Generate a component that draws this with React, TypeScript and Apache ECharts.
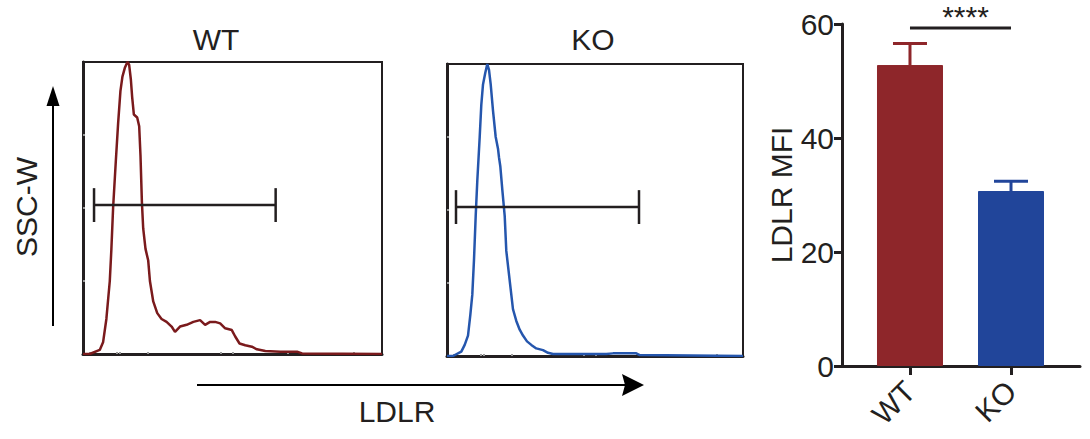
import React, { useEffect, useRef } from "react";
import * as echarts from "echarts";

// Flow histograms (x: LDLR channel position, y: % of modal count)
const wtHistX = [0, 6.7, 16.7, 20, 23.3, 26.7, 28.3, 30, 32.7, 35, 37.3, 39.3, 41.7, 44.3, 46, 47.7, 49, 50.7, 54, 56, 57.3, 58.7, 60, 62.3, 65, 66.7, 70, 74, 78.3, 83.3, 88.3, 91.7, 96.7, 103.3, 110, 116.7, 121.7, 126.7, 131.7, 136.7, 141.7, 148.3, 151.7, 156, 161.7, 168.3, 173.3, 181.7, 196.7, 213.3, 218.3, 298];
const wtHistY = [0, 0, 1.4, 4, 12, 25, 36, 50, 66, 79, 90, 95, 98, 100, 99, 94, 88, 82, 81, 78, 68, 52, 43, 36, 32, 25, 18, 14, 12, 11, 9.4, 7.6, 9.4, 10, 11, 11.6, 10, 11, 11, 10.5, 8.8, 8.2, 6, 3.6, 3, 2.5, 1.6, 1, 0.8, 0.8, 0.2, 0];

const koHistX = [0, 6, 14.3, 17.7, 21, 23.3, 25.3, 27, 28.7, 30.3, 32.7, 34.3, 36, 38.3, 40.3, 42, 43.7, 46, 48.7, 51, 52, 53.3, 55.3, 57.7, 59.3, 61.3, 63.3, 66, 69.3, 72.7, 76, 80, 84.3, 89.3, 96, 101, 106, 159.3, 166, 189.3, 192.7, 296];
const koHistY = [0, 0, 1.5, 3.8, 7, 14, 21, 33, 48, 60, 75, 86, 93, 97, 100, 98, 93, 84, 75, 71, 68, 65, 57, 48, 36, 30, 24, 16, 12, 9, 7, 5, 3.8, 2.6, 2, 1.1, 0.7, 0.7, 0.9, 0.9, 0.3, 0];

// Gates: [start, end, level, half cap height]
const wtGate = [11, 192, 51, 5.8];
const koGate = [9, 192, 51, 5.8];

// Minor tick positions on the histogram axes
const histXTicks = [7, 34, 37, 65, 137, 149, 204, 270];
const histYTicks = [25, 50, 75];

// MFI summary
const barCategories = ["WT", "KO"];
const barMeans = [52.8, 30.7];
const barUpper = [56.6, 32.4];
const sigLevel = 59.3;
const sigLabel = "****";

const INK = "#231f20";
const FONT = "'Liberation Sans', Arial, Helvetica, sans-serif";
const WT_LINE = "#7a1a1c";
const KO_LINE = "#2556ad";
const WT_BAR = "#8e262a";
const KO_BAR = "#21459a";

function histAxes(gridIndex: number, xMax: number) {
  const xAxis = {
    type: "value",
    gridIndex,
    min: 0,
    max: xMax,
    axisLine: { show: true, lineStyle: { color: INK, width: 3 } },
    axisTick: {
      show: true,
      inside: true,
      length: 2,
      customValues: histXTicks,
      lineStyle: { color: "#9a9a9a", width: 2 },
    },
    axisLabel: { show: false },
    splitLine: { show: false },
  };
  const yAxis = {
    type: "value",
    gridIndex,
    min: 0,
    max: 100,
    axisLine: { show: true, lineStyle: { color: INK, width: 3 } },
    axisTick: {
      show: true,
      inside: true,
      length: 2,
      customValues: histYTicks,
      lineStyle: { color: "#9a9a9a", width: 2 },
    },
    axisLabel: { show: false },
    splitLine: { show: false },
  };
  return { xAxis, yAxis };
}

function gateSeries(axisIndex: number, gate: number[]) {
  return {
    type: "custom",
    xAxisIndex: axisIndex,
    yAxisIndex: axisIndex,
    silent: true,
    z: 5,
    data: [gate],
    encode: { x: [0, 1], y: 2 },
    renderItem: (_p: any, api: any) => {
      const x1 = api.value(0);
      const x2 = api.value(1);
      const y = api.value(2);
      const h = api.value(3);
      const a = api.coord([x1, y]);
      const b = api.coord([x2, y]);
      const top = api.coord([x1, y + h])[1];
      const bot = api.coord([x1, y - h])[1];
      const style = { stroke: INK, lineWidth: 2.5 };
      return {
        type: "group",
        children: [
          { type: "line", shape: { x1: a[0], y1: a[1], x2: b[0], y2: b[1] }, style },
          { type: "line", shape: { x1: a[0], y1: top, x2: a[0], y2: bot }, style },
          { type: "line", shape: { x1: b[0], y1: top, x2: b[0], y2: bot }, style },
        ],
      };
    },
  };
}

export default function App() {
  const ref = useRef<HTMLDivElement>(null);

  useEffect(() => {
    if (!ref.current) return;
    const chart = echarts.init(ref.current, null, { renderer: "svg" });

    const wt = histAxes(0, 298);
    const ko = histAxes(1, 296);
    const barColors = [WT_BAR, KO_BAR];

    const option: any = {
      animation: false,
      backgroundColor: "#ffffff",
      textStyle: { fontFamily: FONT },
      grid: [
        { left: 83, top: 62, width: 299, height: 292, show: true, borderColor: INK, borderWidth: 2, backgroundColor: "transparent" },
        { left: 447, top: 64, width: 296, height: 292, show: true, borderColor: INK, borderWidth: 2, backgroundColor: "transparent" },
        { left: 842, top: 24, width: 238, height: 342 },
      ],
      xAxis: [
        wt.xAxis,
        ko.xAxis,
        {
          type: "value",
          gridIndex: 2,
          min: 0.327,
          max: 2.683,
          axisLine: { show: true, lineStyle: { color: INK, width: 3 } },
          axisTick: { show: true, length: 9, customValues: [1, 2], lineStyle: { color: INK, width: 3 } },
          axisLabel: {
            show: true,
            customValues: [1, 2],
            rotate: 45,
            margin: 20,
            fontSize: 30,
            color: INK,
            fontFamily: FONT,
            formatter: (v: number) => barCategories[Math.round(v) - 1] ?? "",
          },
          splitLine: { show: false },
        },
      ],
      yAxis: [
        wt.yAxis,
        ko.yAxis,
        {
          type: "value",
          gridIndex: 2,
          min: 0,
          max: 60,
          interval: 20,
          name: "LDLR MFI",
          nameLocation: "middle",
          nameGap: 46,
          nameTextStyle: { fontSize: 30, color: INK, fontFamily: FONT },
          axisLine: { show: true, lineStyle: { color: INK, width: 3 } },
          axisTick: { show: true, length: 8, lineStyle: { color: INK, width: 3 } },
          axisLabel: { fontSize: 30, color: INK, margin: 8, fontFamily: FONT },
          splitLine: { show: false },
        },
      ],
      series: [
        {
          type: "line",
          xAxisIndex: 0,
          yAxisIndex: 0,
          data: wtHistX.map((x, i) => [x, wtHistY[i]]),
          showSymbol: false,
          symbol: "none",
          lineStyle: { color: WT_LINE, width: 2.5 },
          z: 3,
        },
        {
          type: "line",
          xAxisIndex: 1,
          yAxisIndex: 1,
          data: koHistX.map((x, i) => [x, koHistY[i]]),
          showSymbol: false,
          symbol: "none",
          lineStyle: { color: KO_LINE, width: 2.5 },
          z: 3,
        },
        gateSeries(0, wtGate),
        gateSeries(1, koGate),
        {
          type: "bar",
          xAxisIndex: 2,
          yAxisIndex: 2,
          barWidth: 66,
          data: barMeans.map((m, i) => ({
            value: [i + 1, m],
            itemStyle: { color: barColors[i], borderColor: barColors[i], borderWidth: 1 },
          })),
          z: 2,
        },
        {
          type: "custom",
          xAxisIndex: 2,
          yAxisIndex: 2,
          silent: true,
          z: 3,
          data: barMeans.map((m, i) => [i + 1, m, barUpper[i]]),
          encode: { x: 0, y: [1, 2] },
          renderItem: (params: any, api: any) => {
            const x = api.value(0);
            const base = api.coord([x, api.value(1)]);
            const top = api.coord([x, api.value(2)]);
            const color = barColors[params.dataIndex];
            const style = { stroke: color, lineWidth: 3 };
            return {
              type: "group",
              children: [
                { type: "line", shape: { x1: base[0], y1: base[1], x2: top[0], y2: top[1] }, style },
                { type: "line", shape: { x1: top[0] - 17, y1: top[1], x2: top[0] + 17, y2: top[1] }, style },
              ],
            };
          },
        },
        {
          type: "custom",
          xAxisIndex: 2,
          yAxisIndex: 2,
          silent: true,
          z: 3,
          clip: false,
          data: [[1, 2, sigLevel]],
          encode: { x: [0, 1], y: 2 },
          renderItem: (_p: any, api: any) => {
            const a = api.coord([api.value(0), api.value(2)]);
            const b = api.coord([api.value(1), api.value(2)]);
            return {
              type: "group",
              children: [
                { type: "line", shape: { x1: a[0], y1: a[1], x2: b[0], y2: b[1] }, style: { stroke: INK, lineWidth: 3 } },
                {
                  type: "text",
                  x: (a[0] + b[0]) / 2 + 5,
                  y: 1,
                  style: {
                    text: sigLabel,
                    fontSize: 30,
                    fontFamily: FONT,
                    fill: INK,
                    align: "center",
                    verticalAlign: "top",
                  },
                },
              ],
            };
          },
        },
      ],
      graphic: [
        { type: "text", x: 216, y: 39, style: { text: "WT", fontSize: 30, fontFamily: FONT, fill: INK, align: "center", verticalAlign: "middle" } },
        { type: "text", x: 593, y: 39, style: { text: "KO", fontSize: 30, fontFamily: FONT, fill: INK, align: "center", verticalAlign: "middle" } },
        {
          type: "text",
          x: 26,
          y: 207,
          rotation: Math.PI / 2,
          style: { text: "SSC-W", fontSize: 30, fontFamily: FONT, fill: INK, align: "center", verticalAlign: "middle" },
        },
        { type: "text", x: 397, y: 411, style: { text: "LDLR", fontSize: 30, fontFamily: FONT, fill: INK, align: "center", verticalAlign: "middle" } },
        // vertical arrow
        { type: "line", shape: { x1: 53, y1: 326, x2: 53, y2: 100 }, style: { stroke: "#000", lineWidth: 2 } },
        { type: "polygon", shape: { points: [[53, 86], [46.5, 106], [59.5, 106]] }, style: { fill: "#000" } },
        // horizontal arrow
        { type: "line", shape: { x1: 197, y1: 385, x2: 628, y2: 385 }, style: { stroke: "#000", lineWidth: 2 } },
        { type: "polygon", shape: { points: [[644, 385], [622, 374], [625, 385], [622, 396]] }, style: { fill: "#000" } },
      ],
    };

    chart.setOption(option);
    return () => chart.dispose();
  }, []);

  return (
    <div
      ref={ref}
      style={{ position: "fixed", left: 0, top: 0, width: 1090, height: 439, background: "#fff" }}
    />
  );
}
